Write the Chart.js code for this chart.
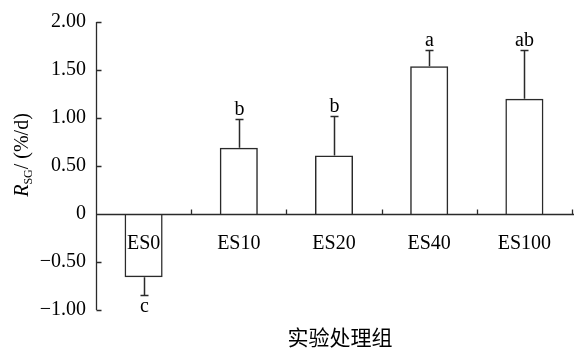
<!DOCTYPE html>
<html>
<head>
<meta charset="utf-8">
<script src="https://cdn.jsdelivr.net/npm/chart.js@4.4.1/dist/chart.umd.min.js"></script>
<style>
  html, body { margin: 0; padding: 0; background: #fff; }
  #wrap { width: 574px; height: 349px; position: relative; }
</style>
</head>
<body>
<div id="wrap"><canvas id="chart"></canvas></div>
<script>
const categories = ['ES0', 'ES10', 'ES20', 'ES40', 'ES100'];
const means = [-0.66, 0.69, 0.61, 1.54, 1.20];
const errors = [0.18, 0.30, 0.41, 0.17, 0.51];
const letters = ['c', 'b', 'b', 'a', 'ab'];
const yTickLabels = ['\u22121.00', '\u22120.50', '0', '0.50', '1.00', '1.50', '2.00'];

const serif = '"Liberation Serif", "Times New Roman", serif';
const ink = '#2a2a2a';

// axes, error bars and letters are drawn by hand on top of the bars
const extras = {
  id: 'extras',
  afterDatasetsDraw(chart) {
    const { ctx, chartArea, scales: { x, y } } = chart;
    const ax = Math.round(chartArea.left) + 0.5;
    const zy = Math.round(y.getPixelForValue(0)) + 0.5;
    const half = (x.getPixelForValue(1) - x.getPixelForValue(0)) / 2;

    ctx.save();
    ctx.strokeStyle = ink;
    ctx.lineWidth = 1.3;
    ctx.beginPath();
    ctx.moveTo(ax, y.getPixelForValue(y.max));
    ctx.lineTo(ax, y.getPixelForValue(y.min));
    y.ticks.forEach(t => {
      const py = Math.round(y.getPixelForValue(t.value)) + 0.5;
      ctx.moveTo(ax, py);
      ctx.lineTo(ax + 5, py);
    });
    ctx.moveTo(ax, zy);
    ctx.lineTo(chart.width, zy);
    categories.forEach((c, i) => {
      const px = Math.round(x.getPixelForValue(i) + half) + 0.5;
      ctx.moveTo(px, zy);
      ctx.lineTo(px, zy - 5);
    });
    ctx.stroke();

    // error bars
    ctx.lineWidth = 1.5;
    ctx.fillStyle = '#000';
    ctx.font = '20px ' + serif;
    ctx.textAlign = 'center';
    means.forEach((m, i) => {
      const px = Math.round(x.getPixelForValue(i)) + 0.5;
      const end = m < 0 ? m - errors[i] : m + errors[i];
      const pb = y.getPixelForValue(m);
      const pe = Math.round(y.getPixelForValue(end)) + 0.5;
      ctx.beginPath();
      ctx.moveTo(px, pb);
      ctx.lineTo(px, pe);
      ctx.moveTo(px - 4, pe);
      ctx.lineTo(px + 4, pe);
      ctx.stroke();
      ctx.textBaseline = 'alphabetic';
      if (m < 0) ctx.fillText(letters[i], px, pe + 16);
      else ctx.fillText(letters[i], px, pe - 5);
    });

    // y axis title: R_SG / (%/d)
    ctx.translate(28, 155);
    ctx.rotate(-Math.PI / 2);
    const partR = 'R', partSub = 'SG', partRest = '/ (%/d)';
    ctx.font = 'italic 20px ' + serif;
    const wR = ctx.measureText(partR).width;
    ctx.font = '12px ' + serif;
    const wS = ctx.measureText(partSub).width;
    ctx.font = '20px ' + serif;
    const wT = ctx.measureText(partRest).width;
    let sx = -(wR + wS + wT) / 2;
    ctx.textAlign = 'left';
    ctx.font = 'italic 20px ' + serif;
    ctx.fillText(partR, sx, 0);
    sx += wR;
    ctx.font = '12px ' + serif;
    ctx.fillText(partSub, sx, 4);
    sx += wS;
    ctx.font = '20px ' + serif;
    ctx.fillText(partRest, sx, 0);
    ctx.restore();

    // x axis title
    ctx.save();
    ctx.fillStyle = '#000';
    ctx.font = '21px "Noto Sans CJK SC", sans-serif';
    ctx.textAlign = 'center';
    ctx.textBaseline = 'middle';
    ctx.fillText('实验处理组', 340, 337);
    ctx.restore();
  }
};

new Chart(document.getElementById('chart'), {
  type: 'bar',
  data: {
    labels: categories,
    datasets: [{
      data: means,
      backgroundColor: 'rgba(255,255,255,0)',
      borderColor: ink,
      borderWidth: 1.5,
      barPercentage: 0.4,
      categoryPercentage: 1.0
    }]
  },
  options: {
    responsive: true,
    maintainAspectRatio: false,
    animation: false,
    layout: { padding: { left: 0, right: 2, top: 20, bottom: 39 } },
    plugins: { legend: { display: false }, tooltip: { enabled: false } },
    scales: {
      x: {
        position: { y: 0 },
        offset: true,
        grid: { display: false, drawTicks: false },
        border: { display: false },
        ticks: { font: { family: serif, size: 20 }, color: '#000', padding: 18, autoSkip: false }
      },
      y: {
        min: -1,
        max: 2,
        grid: { display: false, drawTicks: false },
        border: { display: false },
        ticks: {
          stepSize: 0.5,
          font: { family: serif, size: 20 },
          color: '#000',
          padding: 10,
          callback: (v, i) => yTickLabels[i]
        },
        afterFit(scale) { scale.width = 96; }
      }
    }
  },
  plugins: [extras]
});
</script>
</body>
</html>
